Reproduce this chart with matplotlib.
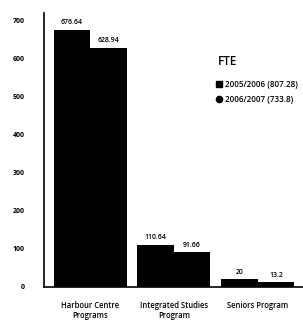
import matplotlib.pyplot as plt
import numpy as np
from matplotlib.lines import Line2D

categories = ['Harbour Centre\nPrograms', 'Integrated Studies\nProgram', 'Seniors Program']
fte_2005 = [676.64, 110.64, 20]
fte_2006 = [628.94, 91.66, 13.2]
series_labels = ['2005/2006 (807.28)', '2006/2007 (733.8)']
y_ticks = [0, 100, 200, 300, 400, 500, 600, 700]

plt.rcParams['font.family'] = ['Open Sans', 'DejaVu Sans']

fig = plt.figure(figsize=(3.03, 3.21), dpi=100)
ax = fig.add_axes([0.145, 0.106, 0.855, 0.854])

x = np.arange(len(categories))
w = 0.435
b1 = ax.bar(x - w / 2, fte_2005, w, color='black')
b2 = ax.bar(x + w / 2, fte_2006, w, color='black')

for bars, vals in ((b1, fte_2005), (b2, fte_2006)):
    for bar, v in zip(bars, vals):
        ax.text(bar.get_x() + bar.get_width() / 2, v + 9, '%g' % v,
                ha='center', va='bottom', fontsize=5, fontweight='semibold')

ax.set_xlim(-0.55, 2.54)
ax.set_ylim(0, 721)
ax.set_yticks(y_ticks)
ax.set_yticklabels([str(t) for t in y_ticks], fontsize=5, fontweight='bold')
ax.set_xticks(x)
ax.set_xticklabels(categories, fontsize=5.5, fontweight='semibold')
ax.tick_params(axis='x', length=0, pad=10)
ax.tick_params(axis='y', length=0, pad=14)
for s in ('top', 'right'):
    ax.spines[s].set_visible(False)
ax.spines['left'].set_linewidth(1.2)
ax.spines['bottom'].set_linewidth(1.2)

fig.text(0.718, 0.797, 'FTE', fontsize=8.5, fontweight='semibold', va='baseline')
handles = [Line2D([], [], marker='s', color='black', linestyle='none', markersize=4),
           Line2D([], [], marker='o', color='black', linestyle='none', markersize=4.5)]
fig.legend(handles, series_labels, loc='upper left', bbox_to_anchor=(0.712, 0.75),
           frameon=False, fontsize=5.8, handletextpad=0.2, labelspacing=0.7,
           handlelength=0.9, borderaxespad=0, borderpad=0,
           prop={'size': 5.8, 'weight': 'semibold'})

fig.savefig('out.png', dpi=100)
